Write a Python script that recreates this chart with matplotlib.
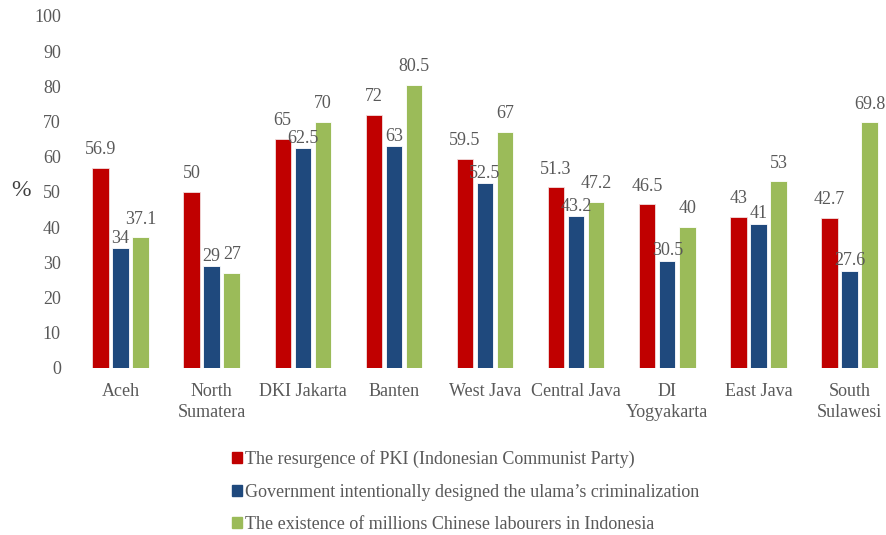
import matplotlib.pyplot as plt
import numpy as np
from matplotlib.patches import Patch

plt.rcParams['font.family'] = ['Liberation Serif', 'DejaVu Serif']
plt.rcParams['text.color'] = '#595959'

regions = ['Aceh', 'North\nSumatera', 'DKI Jakarta', 'Banten', 'West Java',
           'Central Java', 'DI\nYogyakarta', 'East Java', 'South\nSulawesi']
pki = [56.9, 50, 65, 72, 59.5, 51.3, 46.5, 43, 42.7]
ulama = [34, 29, 62.5, 63, 52.5, 43.2, 30.5, 41, 27.6]
chinese = [37.1, 27, 70, 80.5, 67, 47.2, 40, 53, 69.8]
names = ['The resurgence of PKI (Indonesian Communist Party)',
         "Government intentionally designed the ulama\u2019s criminalization",
         'The existence of millions Chinese labourers in Indonesia']
colors = ['#C00000', '#1F497D', '#9BBB59']

fs = 13
fig = plt.figure(figsize=(8.86, 5.35), dpi=100)
ax = fig.add_axes([75.4/886, 1-368/535, 1-75.4/886, 352/535])

x = np.arange(len(regions))
w = 0.18
step = 0.22
for i, (vals, c, lab_off) in enumerate(zip([pki, ulama, chinese], colors, [7, 1, 7])):
    bars = ax.bar(x + (i-1)*step, vals, w, color=c, edgecolor='#f2dede' if i == 0 else 'white',
                  linewidth=0.6)
    for b, v in zip(bars, vals):
        ax.annotate(f'{v:g}', (b.get_x() + b.get_width()/2, v), xytext=(0, lab_off),
                    textcoords='offset points', ha='center', va='bottom',
                    fontsize=fs, color='#595959')

ax.set_xlim(-0.495, 8.4)
ax.set_ylim(0, 100)
ax.set_yticks(range(0, 101, 10))
ax.set_xticks(x)
ax.set_xticklabels(regions, fontsize=fs, color='#595959', linespacing=1.25)
ax.tick_params(axis='y', length=0, pad=10.5, labelsize=fs, labelcolor='#595959')
ax.tick_params(axis='x', length=0, pad=11)
for s in ax.spines.values():
    s.set_visible(False)

fig.text(21/886, 1-190/535, '%', fontsize=17, ha='center', va='center', color='#404040')

handles = [Patch(color=c) for c in colors]
fig.legend(handles, names, loc='upper left', bbox_to_anchor=(225/886, 1-443/535),
           frameon=False, fontsize=fs, handlelength=0.55, handleheight=0.55,
           handletextpad=0.15, labelspacing=0.85, borderaxespad=0)

fig.savefig('out.png', dpi=100)
